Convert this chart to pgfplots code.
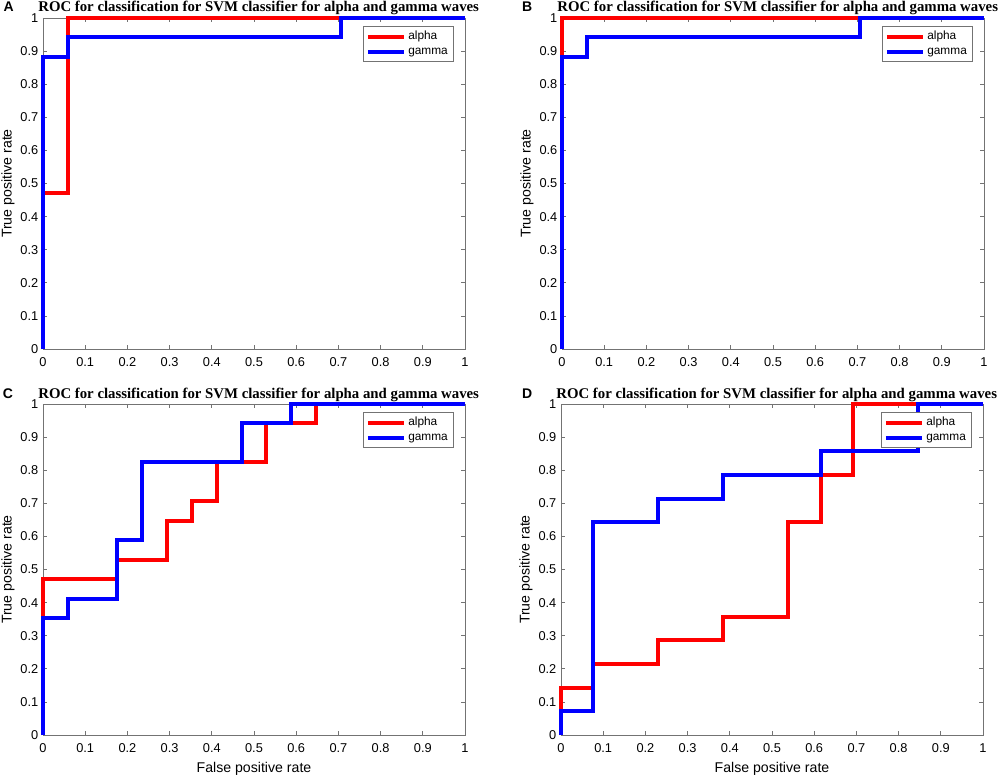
\documentclass[border=0pt]{standalone}
\usepackage{fontspec}
\setmainfont{Liberation Sans}
\newfontfamily\titlefont{Liberation Serif}
\usepackage{pgfplots}
\pgfplotsset{compat=1.18}

\definecolor{axgray}{gray}{0.45}

\pgfplotsset{
  rocax/.style={
    scale only axis,
    width=316.5pt, height=248.25pt,
    anchor=north west,
    xmin=0, xmax=1, ymin=0, ymax=1,
    xtick={0,0.1,0.2,0.3,0.4,0.5,0.6,0.7,0.8,0.9,1},
    ytick={0,0.1,0.2,0.3,0.4,0.5,0.6,0.7,0.8,0.9,1},
    tick align=inside,
    major tick length=3pt,
    axis line style={axgray, line width=0.6pt},
    every tick/.style={axgray, line width=0.6pt},
    tick label style={font=\fontsize{9.6}{10}\selectfont},
    xticklabel style={yshift=-3pt},
    /pgf/number format/assume math mode=true,
    label style={font=\fontsize{10.6}{12}\selectfont},
    ylabel={True positive rate},
    ylabel shift=-2.5pt,
    title={ROC for classification for SVM classifier for alpha and gamma waves},
    title style={at={(0.5,1)}, anchor=base, yshift=-1.5pt, xshift=3.5pt,
                 font=\titlefont\bfseries\fontsize{11.1}{12}\selectfont},
    clip=false,
    legend style={at={(0.972,0.976)}, anchor=north east, draw=axgray, thin,
                  font=\fontsize{8.9}{10}\selectfont, inner sep=2pt,
                  row sep=1pt, nodes={inner sep=1.8pt}},
    legend cell align=left,
    legend image code/.code={\draw[##1] (0pt,0pt) -- (27pt,0pt);},
  },
  alpha/.style={red, line width=3pt, line join=miter},
  gamma/.style={blue, line width=3pt, line join=miter},
}

\begin{document}
\begin{tikzpicture}
\useasboundingbox (0pt,0pt) rectangle (750pt,-583.5pt);

% A
\begin{axis}[rocax, at={(32.25pt,-13.5pt)}]
  \addplot[alpha] coordinates {(0,0) (0,0.4706) (0.0588,0.4706) (0.0588,1) (1,1)};
  \addplot[gamma] coordinates {(0,0) (0,0.8824) (0.0588,0.8824) (0.0588,0.9412)
     (0.7059,0.9412) (0.7059,1) (1,1)};
  \legend{alpha,gamma}
\end{axis}

% B
\begin{axis}[rocax, at={(421.5pt,-13.5pt)}]
  \addplot[alpha] coordinates {(0,0) (0,1) (1,1)};
  \addplot[gamma] coordinates {(0,0) (0,0.8824) (0.0588,0.8824) (0.0588,0.9412)
     (0.7059,0.9412) (0.7059,1) (1,1)};
  \legend{alpha,gamma}
\end{axis}

% C
\begin{axis}[rocax, at={(32.25pt,-303pt)}, xlabel={False positive rate}]
  \addplot[alpha] coordinates {(0,0) (0,0.4706) (0.1765,0.4706) (0.1765,0.5294)
     (0.2941,0.5294) (0.2941,0.6471) (0.3529,0.6471) (0.3529,0.7059)
     (0.4118,0.7059) (0.4118,0.8235) (0.5294,0.8235) (0.5294,0.9412)
     (0.6471,0.9412) (0.6471,1) (1,1)};
  \addplot[gamma] coordinates {(0,0) (0,0.3529) (0.0588,0.3529) (0.0588,0.4118)
     (0.1765,0.4118) (0.1765,0.5882) (0.2353,0.5882) (0.2353,0.8235)
     (0.4706,0.8235) (0.4706,0.9412) (0.5882,0.9412) (0.5882,1) (1,1)};
  \legend{alpha,gamma}
\end{axis}

% D
\begin{axis}[rocax, at={(420.75pt,-303pt)}, xlabel={False positive rate}]
  \addplot[alpha] coordinates {(0,0) (0,0.1429) (0.0769,0.1429) (0.0769,0.2143)
     (0.2308,0.2143) (0.2308,0.2857) (0.3846,0.2857) (0.3846,0.3571)
     (0.5385,0.3571) (0.5385,0.6429) (0.6154,0.6429) (0.6154,0.7857)
     (0.6923,0.7857) (0.6923,1) (1,1)};
  \addplot[gamma] coordinates {(0,0) (0,0.0714) (0.0769,0.0714) (0.0769,0.6429)
     (0.2308,0.6429) (0.2308,0.7143) (0.3846,0.7143) (0.3846,0.7857)
     (0.6154,0.7857) (0.6154,0.8571) (0.8462,0.8571) (0.8462,1) (1,1)};
  \legend{alpha,gamma}
\end{axis}

\begin{scope}[every node/.style={anchor=base west, inner sep=0pt,
    font=\bfseries\fontsize{10.5}{12}\selectfont}]
  \node at (2.5pt,-9pt) {A};
  \node at (391.3pt,-9pt) {B};
  \node at (2pt,-298.8pt) {C};
  \node at (391.3pt,-298.8pt) {D};
\end{scope}
\end{tikzpicture}
\end{document}
